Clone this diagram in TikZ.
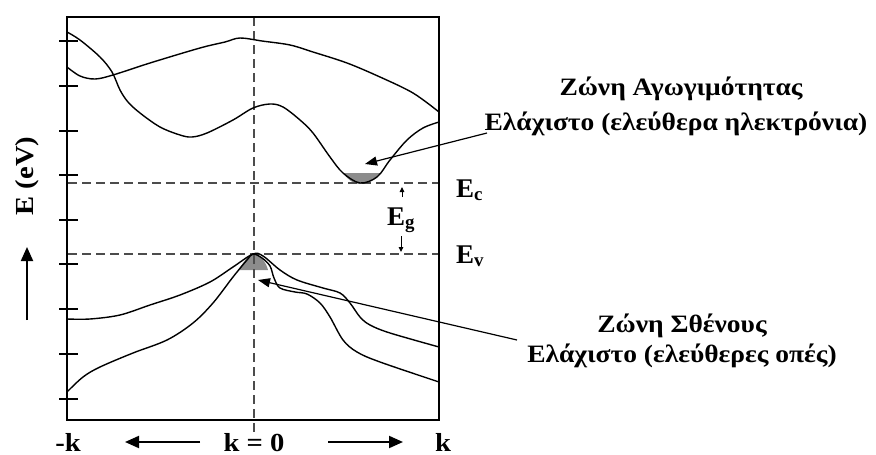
\documentclass[tikz,border=0pt]{standalone}
\usepackage{fontspec}
\setmainfont{Liberation Serif}
\newfontfamily\gkfont[FakeStretch=1.1]{Liberation Serif}
\usetikzlibrary{arrows.meta}
\begin{document}
\begin{tikzpicture}[x=1pt,y=-1pt,
  frame/.style={line width=1.8pt},
  band/.style={line width=1.4pt},
  guide/.style={line width=1.4pt, draw=black!70, dash pattern=on 9pt off 5pt},
  tickmark/.style={line width=1.5pt},
  fillgray/.style={fill=black!45},
  pointer/.style={line width=1.2pt, -{Triangle[length=12pt,width=9pt]}},
  bigarrow/.style={line width=2pt, -{Triangle[length=14pt,width=12pt]}},
  smallarrow/.style={line width=1pt, -{Triangle[length=5pt,width=4.5pt]}},
  lbl/.style={font=\gkfont\bfseries\fontsize{25}{29}\selectfont, inner sep=0pt, anchor=base},
  elbl/.style={font=\bfseries\fontsize{27}{30}\selectfont, inner sep=0pt, anchor=base west},
  klbl/.style={font=\gkfont\bfseries\fontsize{26}{30}\selectfont, inner sep=0pt, anchor=base},
]
\useasboundingbox (0,0) rectangle (876,455);

% grey fills
\fill[fillgray] (343,173) .. controls (350,182) and (355,184) .. (360,184) .. controls (368,184) and (375,180) .. (381,173) -- cycle;
\fill[fillgray] (238,270) .. controls (244,262) and (248,255) .. (253,254) .. controls (260,254) and (266,262) .. (268,270) -- cycle;

% guides
\coordinate (kt) at (254,17);
\coordinate (kb) at (254,436);
\coordinate (ecl) at (68,183);
\coordinate (ecr) at (439,183);
\coordinate (evl) at (68,254);
\coordinate (evr) at (439,254);
\draw[guide] (kt) -- (kb);
\draw[guide] (ecl) -- (ecr);
\draw[guide] (evl) -- (evr);

% frame
\draw[frame] (67,17) rectangle (439,420);

% ticks
\foreach \ty in {41,86,131,175,220,264,309,354,399}
  \draw[tickmark] (59,\ty) -- (78,\ty);

% conduction bands
\draw[band] plot[smooth, tension=0.55] coordinates {(67,32) (80,40) (100,57) (112,72) (120,90) (128,102) (140,113) (160,127) (180,135) (192,137) (207,133) (233,120) (253,108) (270,104) (283,107) (300,120) (313,133) (330,157) (343,173) (360,183) (377,177) (390,160) (407,140) (423,128) (439,122)};
\draw[band] plot[smooth, tension=0.55] coordinates {(67,67) (80,76) (95,79) (113,75) (150,63) (200,48) (225,42) (240,38) (262,41) (290,45) (313,52) (347,63) (380,77) (413,93) (439,112)};

% valence bands
\draw[band] plot[smooth, tension=0.55] coordinates {(67,319) (90,319) (120,315) (150,305) (180,295) (210,282) (233,267) (253,254) (263,256) (280,270) (297,280) (323,288) (340,293) (350,303) (360,317) (370,325) (390,333) (439,347)};
\draw[band] plot[smooth, tension=0.55] coordinates {(67,392) (83,377) (100,367) (133,353) (167,340) (193,323) (213,303) (233,277) (247,260) (253,254) (262,258) (270,266) (274,278) (280,288) (295,292) (307,294) (320,303) (330,317) (343,340) (357,352) (380,362) (439,382)};

% labels
\node[lbl] (cz) at (681,95) {Ζώνη Αγωγιμότητας};
\node[lbl] (cm) at (676,130) {Ελάχιστο (ελεύθερα ηλεκτρόνια)};
\node[lbl] (vz) at (682,332) {Ζώνη Σθένους};
\node[lbl] (vm) at (682,362) {Ελάχιστο (ελεύθερες οπές)};

\coordinate (cstart) at (487,133);
\coordinate (ctip) at (365,164);
\coordinate (vstart) at (517,340);
\coordinate (vtip) at (258,280);
\draw[pointer] (cstart) -- (ctip);
\draw[pointer] (vstart) -- (vtip);

\node[elbl] (ec) at (456,197) {E\textsubscript{c}};
\node[elbl] (eg) at (387,225) {E\textsubscript{g}};
\node[elbl] (ev) at (456,263) {E\textsubscript{v}};
\coordinate (egu0) at (402,197);
\coordinate (egu1) at (402,187);
\coordinate (egd0) at (401,236);
\coordinate (egd1) at (401,252);
\draw[smallarrow] (egu0) -- (egu1);
\draw[smallarrow] (egd0) -- (egd1);

% axis label and arrows
\node[font=\gkfont\bfseries\fontsize{26}{30}\selectfont, inner sep=0pt, rotate=90] (elab) at (27,176) {E (eV)};
\coordinate (ua0) at (27,320);
\coordinate (ua1) at (27,247);
\draw[bigarrow] (ua0) -- (ua1);

\node[klbl] (mk) at (68,451) {-k};
\node[klbl] (k0) at (254,451) {k = 0};
\node[klbl] (pk) at (443,451) {k};
\coordinate (la0) at (200,442);
\coordinate (la1) at (125,442);
\coordinate (ra0) at (328,442);
\coordinate (ra1) at (403,442);
\draw[bigarrow] (la0) -- (la1);
\draw[bigarrow] (ra0) -- (ra1);
\end{tikzpicture}
\end{document}
